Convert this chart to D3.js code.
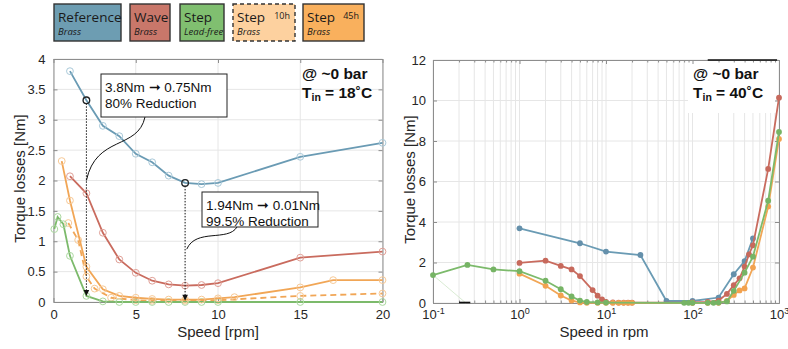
<!DOCTYPE html>
<html><head><meta charset="utf-8">
<script src="https://cdn.jsdelivr.net/npm/d3@7"></script>
<style>body{margin:0;background:#fff}svg{display:block}</style>
</head><body>
<svg id="c" width="788" height="349"></svg>
<script>
// ---- Legend ----
const legendNames = ["Reference", "Wave", "Step", "Step", "Step"];
const legendSub = ["Brass", "Brass", "Lead-free", "Brass", "Brass"];
const legendTag = ["", "", "", "10h", "45h"];
const legendFill = ["#6d9db2", "#c9776a", "#80bf70", "#fdd19f", "#f9b05d"];

// ---- Left panel: T_in = 18 °C, speed in rpm ----
const refX = [1, 2, 3, 4, 5, 6, 7, 8, 9, 10, 15, 20];
const refY = [3.80, 3.32, 2.90, 2.73, 2.44, 2.30, 2.08, 1.96, 1.94, 1.96, 2.39, 2.62];
const waveX = [1, 2, 3, 4, 5, 6, 7, 8, 9, 10, 15, 20];
const waveY = [2.07, 1.79, 1.14, 0.70, 0.48, 0.35, 0.29, 0.27, 0.28, 0.31, 0.73, 0.83];
const leadX = [0.05, 0.25, 0.6, 1, 2, 3, 4, 5, 6, 7, 8, 9, 10, 15, 20];
const leadY = [1.20, 1.40, 1.28, 0.76, 0.10, 0.01, 0, 0, 0, 0, 0, 0, 0, 0, 0];
const s45X = [0.5, 1, 2, 3, 4, 5, 6, 7, 8, 9, 10, 11, 15, 17, 20];
const s45Y = [2.32, 1.67, 0.58, 0.21, 0.10, 0.07, 0.05, 0.04, 0.04, 0.04, 0.06, 0.08, 0.24, 0.36, 0.36];
const s10X = [0.9, 1.5, 2, 2.5, 3.5, 5, 6, 8, 10, 15, 20];
const s10Y = [1.30, 1.02, 0.42, 0.22, 0.07, 0.03, 0.02, 0.02, 0.03, 0.10, 0.14];

const leftXTicks = [0, 5, 10, 15, 20];
const leftYTicks = [0, 0.5, 1, 1.5, 2, 2.5, 3, 3.5, 4];

// ---- Right panel: T_in = 40 °C, speed on a log axis ----
const rRefX = [1, 5, 10, 25, 50, 100, 200, 300, 400, 500];
const rRefY = [3.69, 2.95, 2.54, 2.37, 0.10, 0.10, 0.27, 1.42, 2.07, 3.19];
const rWaveX = [1, 2, 3, 4, 5, 7, 8, 9, 10, 12, 14, 16, 18, 20, 100, 150, 200, 250, 300, 350, 400, 450, 500, 750, 1000];
const rWaveY = [1.98, 2.09, 1.83, 1.66, 1.33, 0.64, 0.36, 0.18, 0.06, 0.03, 0.02, 0.02, 0.02, 0.02, 0.03, 0.05, 0.12, 0.45, 0.88, 1.22, 1.80, 2.40, 2.85, 6.62, 10.14];
const rLeadX = [0.1, 0.25, 0.5, 1, 2, 3, 4, 5, 6, 8, 10, 80, 90, 100, 150, 175, 200, 250, 300, 400, 500, 750, 1000];
const rLeadY = [1.38, 1.88, 1.66, 1.57, 1.10, 0.68, 0.32, 0.12, 0.05, 0.03, 0.02, 0.01, 0.01, 0.01, 0.01, 0.01, 0.02, 0.08, 0.60, 1.50, 2.29, 5.05, 8.45];
const rStepX = [1, 2, 3, 4, 5, 6, 8, 10, 12, 14, 16, 18, 20, 100, 150, 200, 250, 300, 350, 400, 500, 750, 1000];
const rStepY = [1.45, 0.85, 0.37, 0.12, 0.03, 0.01, 0.01, 0.01, 0.01, 0.01, 0.01, 0.01, 0.01, 0.01, 0.01, 0.01, 0.10, 0.40, 0.62, 0.72, 1.75, 4.76, 8.10];

const rightXDecades = [0.1, 1, 10, 100, 1000];
const rightYTicks = [0, 2, 4, 6, 8, 10, 12];

const C = {
  blue: "#6a9bb4", red: "#c96b5e", green: "#7cba6b", orange: "#f1a656",
  blueM: "#a9c9d9", redM: "#e0a097", greenM: "#abd8a0", orangeM: "#f7c996"
};
const AXIS = "#8d8d8d", GRID = "#e6e6e6", TXT = "#262626";
const FONT = "'Liberation Sans', Arial, sans-serif";
const tickFmt = d3.format("~g");

const svg = d3.select("#c");
const zip = (xs, ys) => xs.map((x, i) => [x, ys[i]]);

// ---- Legend boxes ----
const legendX = [54, 130, 180, 233, 303];
const legendW = [67, 40, 44, 62, 61];
const lg = svg.append("g").attr("font-family", "'Open Sans', sans-serif").attr("fill", "#1a1a1a");
legendNames.forEach((n, i) => {
  const g = lg.append("g").attr("transform", `translate(${legendX[i]},4)`);
  g.append("rect").attr("x", 0).attr("y", 0).attr("width", legendW[i]).attr("height", 37)
    .attr("fill", legendFill[i]).attr("stroke", "#333").attr("stroke-width", 1.4)
    .attr("stroke-dasharray", i === 3 ? "4,3" : null);
  g.append("text").attr("x", 4).attr("y", 18).attr("font-size", 13.5).text(n);
  g.append("text").attr("x", 4).attr("y", 31).attr("font-size", 9.5).attr("font-style", "italic").text(legendSub[i]);
  if (legendTag[i]) g.append("text").attr("x", legendW[i] - 5).attr("y", 15).attr("text-anchor", "end")
    .attr("font-size", 9).text(legendTag[i]);
});

// ---- Left panel ----
const xL = d3.scaleLinear([0, 20], [53.5, 382.5]);
const yL = d3.scaleLinear([0, 4], [302, 59]);
const L = svg.append("g");

L.append("g").selectAll("line").data(leftXTicks).join("line")
  .attr("x1", d => xL(d)).attr("x2", d => xL(d)).attr("y1", yL(0)).attr("y2", yL(4))
  .attr("stroke", GRID);
L.append("g").selectAll("line").data(leftYTicks).join("line")
  .attr("y1", d => yL(d)).attr("y2", d => yL(d)).attr("x1", xL(0)).attr("x2", xL(20))
  .attr("stroke", GRID);

function styleAxis(g) {
  g.select(".domain").attr("stroke", AXIS);
  g.selectAll(".tick line").attr("stroke", AXIS);
  g.selectAll(".tick text").attr("fill", TXT).attr("font-size", 13).attr("font-family", FONT);
}
L.append("g").attr("transform", `translate(0,${yL(0)})`)
  .call(d3.axisBottom(xL).tickValues(leftXTicks).tickFormat(tickFmt).tickSizeInner(-4).tickSizeOuter(0).tickPadding(8)).call(styleAxis);
L.append("g").attr("transform", `translate(0,${yL(4)})`)
  .call(d3.axisTop(xL).tickValues(leftXTicks).tickSizeInner(-4).tickSizeOuter(0).tickFormat("")).call(styleAxis);
L.append("g").attr("transform", `translate(${xL(0)},0)`)
  .call(d3.axisLeft(yL).tickValues(leftYTicks).tickFormat(tickFmt).tickSizeInner(-4).tickSizeOuter(0).tickPadding(8)).call(styleAxis);
L.append("g").attr("transform", `translate(${xL(20)},0)`)
  .call(d3.axisRight(yL).tickValues(leftYTicks).tickSizeInner(-4).tickSizeOuter(0).tickFormat("")).call(styleAxis);

const lineL = d3.line().x(d => xL(d[0])).y(d => yL(d[1]));
const leftSeries = [
  { d: zip(s10X, s10Y), c: C.orange, m: C.orangeM, dash: "6,4" },
  { d: zip(leadX, leadY), c: C.green, m: C.greenM },
  { d: zip(s45X, s45Y), c: C.orange, m: C.orangeM },
  { d: zip(waveX, waveY), c: C.red, m: C.redM },
  { d: zip(refX, refY), c: C.blue, m: C.blueM }
];
leftSeries.forEach(s => {
  L.append("path").attr("d", lineL(s.d)).attr("fill", "none").attr("stroke", s.c)
    .attr("stroke-width", 1.8).attr("stroke-dasharray", s.dash || null);
  L.append("g").selectAll("circle").data(s.d).join("circle")
    .attr("cx", d => xL(d[0])).attr("cy", d => yL(d[1])).attr("r", 3.4)
    .attr("fill", "none").attr("stroke", s.m).attr("stroke-width", 1);
});

// Reduction annotations: dotted drop lines with arrowheads
const drops = [[2, 3.32, 0.10], [8, 1.96, 0.02]];
drops.forEach(([x, y0, y1]) => {
  L.append("line").attr("x1", xL(x)).attr("x2", xL(x)).attr("y1", yL(y0) + 3).attr("y2", yL(y1) - 5)
    .attr("stroke", "#111").attr("stroke-width", 1).attr("stroke-dasharray", "1.5,1.5");
  const tx = xL(x), ty = yL(y1);
  L.append("path").attr("d", `M${tx - 2.8},${ty - 6}L${tx + 2.8},${ty - 6}L${tx},${ty}Z`).attr("fill", "#111");
  L.append("circle").attr("cx", xL(x)).attr("cy", yL(y0)).attr("r", 3.3)
    .attr("fill", "none").attr("stroke", "#222").attr("stroke-width", 1.3);
});

// Callout boxes with S-shaped leaders
function callout(bx, by, bw, bh, lines, path) {
  L.append("path").attr("d", path).attr("fill", "none").attr("stroke", "#111").attr("stroke-width", 1);
  L.append("rect").attr("x", bx).attr("y", by).attr("width", bw).attr("height", bh)
    .attr("fill", "#fff").attr("stroke", "#222").attr("stroke-width", 1);
  lines.forEach((t, i) => L.append("text").attr("x", bx + 4).attr("y", by + 18 + i * 15.5)
    .attr("font-family", FONT).attr("font-size", 13.5).attr("fill", "#111").text(t));
}
callout(101, 74, 126, 43, ["3.8Nm \u279E 0.75Nm", "80% Reduction"],
  `M145,117 C138,150 96,135 ${xL(2)},${yL(2.0)}`);
callout(202, 192, 116, 35, ["1.94Nm \u279E 0.01Nm", "99.5% Reduction"],
  `M237,227 C228,242 196,228 ${xL(8.1)},${yL(0.87)}`);

function condition(g, x, t) {
  const tx = g.append("g").attr("font-family", FONT).attr("font-weight", "bold").attr("font-size", 15.5).attr("fill", "#111");
  tx.append("text").attr("x", x).attr("y", 79).text("@ ~0 bar");
  const t2 = tx.append("text").attr("x", x).attr("y", 98);
  t2.append("tspan").text("T");
  t2.append("tspan").attr("font-size", 10.5).attr("dy", 3).text("in");
  t2.append("tspan").attr("dy", -3).text(` = ${t}\u02DAC`);
}
condition(L, 302, 18);

L.append("text").attr("x", xL(10)).attr("y", 337).attr("text-anchor", "middle")
  .attr("font-family", FONT).attr("font-size", 15).attr("fill", TXT).text("Speed [rpm]");
L.append("text").attr("transform", `translate(25,${yL(2) - 2}) rotate(-90)`).attr("text-anchor", "middle")
  .attr("font-family", FONT).attr("font-size", 15).attr("fill", TXT).text("Torque losses [Nm]");

// ---- Right panel ----
const xR = d3.scaleLog([0.1, 1000], [433, 779]);
const yR = d3.scaleLinear([0, 12], [303, 60]);
const R = svg.append("g");
const minorX = [];
rightXDecades.slice(0, -1).forEach(d => { for (let k = 2; k <= 9; k++) minorX.push(d * k); });

R.append("g").selectAll("line").data(minorX.concat(rightXDecades)).join("line")
  .attr("x1", d => xR(d)).attr("x2", d => xR(d)).attr("y1", yR(0)).attr("y2", yR(12))
  .attr("stroke", GRID);
R.append("g").selectAll("line").data(rightYTicks).join("line")
  .attr("y1", d => yR(d)).attr("y2", d => yR(d)).attr("x1", xR(0.1)).attr("x2", xR(1000))
  .attr("stroke", GRID);

// White backdrop for the condition label
R.append("rect").attr("x", 688).attr("y", 61).attr("width", 88).attr("height", 52).attr("fill", "#fff");

const axB = R.append("g").attr("transform", `translate(0,${yR(0)})`)
  .call(d3.axisBottom(xR).tickValues(rightXDecades).tickSizeInner(-4).tickSizeOuter(0).tickPadding(7)).call(styleAxis);
axB.selectAll(".tick text").each(function (d) {
  const t = d3.select(this);
  const e = Math.round(Math.log10(d));
  t.text("10");
  t.append("tspan").attr("dy", "-0.55em").attr("font-size", 9).text(e);
});
R.append("g").attr("transform", `translate(0,${yR(0)})`)
  .call(d3.axisBottom(xR).tickValues(minorX).tickSizeInner(-2.5).tickSizeOuter(0).tickFormat("")).call(styleAxis);
R.append("g").attr("transform", `translate(0,${yR(12)})`)
  .call(d3.axisTop(xR).tickValues(rightXDecades).tickSizeInner(-4).tickSizeOuter(0).tickFormat("")).call(styleAxis);
R.append("g").attr("transform", `translate(0,${yR(12)})`)
  .call(d3.axisTop(xR).tickValues(minorX).tickSizeInner(-2.5).tickSizeOuter(0).tickFormat("")).call(styleAxis);
R.append("g").attr("transform", `translate(${xR(0.1)},0)`)
  .call(d3.axisLeft(yR).tickValues(rightYTicks).tickSizeInner(-4).tickSizeOuter(0).tickPadding(7)).call(styleAxis);
R.append("g").attr("transform", `translate(${xR(1000)},0)`)
  .call(d3.axisRight(yR).tickValues(rightYTicks).tickSizeInner(-4).tickSizeOuter(0).tickFormat("")).call(styleAxis);
// darker stretch along the top edge
R.append("line").attr("x1", xR(150)).attr("x2", xR(950)).attr("y1", yR(12)).attr("y2", yR(12))
  .attr("stroke", "#111").attr("stroke-width", 1.3);

// faint leftover trace near the origin
R.append("line").attr("x1", xR(0.1)).attr("y1", yR(1.38)).attr("x2", xR(0.24)).attr("y2", yR(0))
  .attr("stroke", "#cfe6c8").attr("stroke-width", 0.8);
R.append("line").attr("x1", xR(0.2)).attr("x2", xR(0.27)).attr("y1", yR(0) - 0.5).attr("y2", yR(0) - 0.5)
  .attr("stroke", "#111").attr("stroke-width", 1.6);

const lineR = d3.line().x(d => xR(d[0])).y(d => yR(d[1]));
const rightSeries = [
  { d: zip(rRefX, rRefY), c: C.blue, m: "#6590ab" },
  { d: zip(rWaveX, rWaveY), c: C.red, m: "#c7695c" },
  { d: zip(rStepX, rStepY), c: C.orange, m: "#f2a24f" },
  { d: zip(rLeadX, rLeadY), c: C.green, m: "#76b465" }
];
rightSeries.forEach(s => {
  R.append("path").attr("d", lineR(s.d)).attr("fill", "none").attr("stroke", s.c).attr("stroke-width", 1.8);
  R.append("g").selectAll("circle").data(s.d).join("circle")
    .attr("cx", d => xR(d[0])).attr("cy", d => yR(d[1])).attr("r", 2.9).attr("fill", s.m);
});

condition(R, 693, 40);

R.append("text").attr("x", 604).attr("y", 337).attr("text-anchor", "middle")
  .attr("font-family", FONT).attr("font-size", 15).attr("fill", TXT).text("Speed in rpm");
R.append("text").attr("transform", `translate(415,${yR(6) - 2}) rotate(-90)`).attr("text-anchor", "middle")
  .attr("font-family", FONT).attr("font-size", 15).attr("fill", TXT).text("Torque losses [Nm]");
</script>
</body></html>
